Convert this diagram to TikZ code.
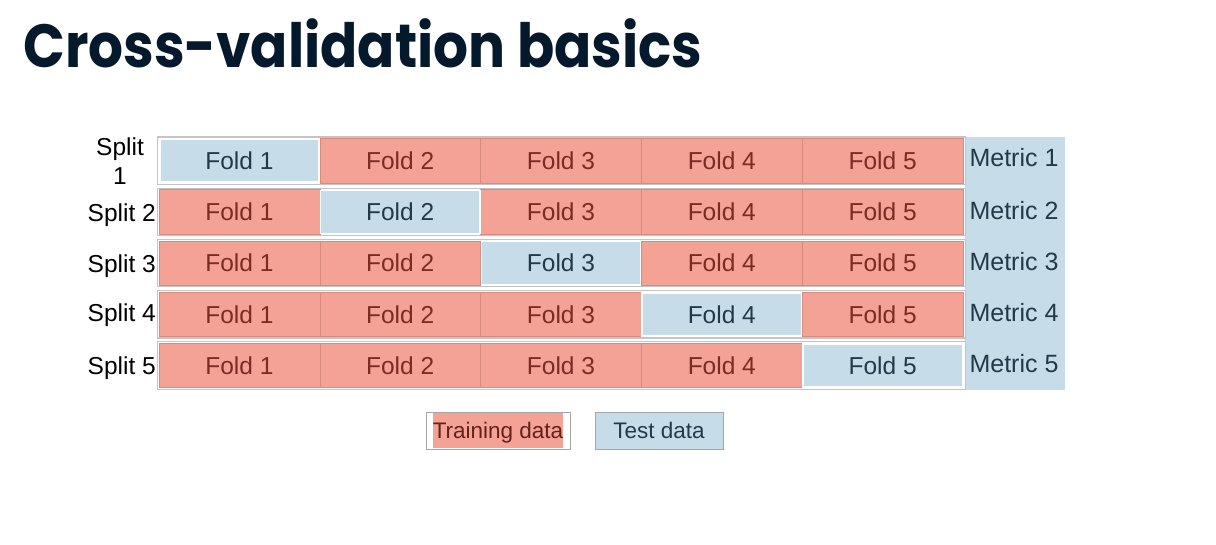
\documentclass[tikz,border=0pt]{standalone}
\usepackage{fontspec}
\setmainfont{Liberation Sans}
\newfontfamily\titlefont{Poppins}

\definecolor{trainred}{HTML}{F4A196}
\definecolor{trainline}{HTML}{D98A7F}
\definecolor{traintext}{HTML}{7A2B22}
\definecolor{testblue}{HTML}{C6DDE9}
\definecolor{testtext}{HTML}{22394A}
\definecolor{framegray}{HTML}{C4C4C4}
\definecolor{titlenavy}{HTML}{05192D}

\tikzset{
  foldtext/.style={font=\fontsize{24.5}{29}\selectfont},
  splitrow/.style={rectangle, draw=framegray, line width=1.2pt, fill=white,
    minimum width=808pt, minimum height=47.5pt, inner sep=0pt},
  trainfold/.style={rectangle, fill=trainred, draw=trainline, line width=0.6pt,
    minimum width=160.8pt, minimum height=44.5pt, inner sep=0pt,
    text=traintext, foldtext},
  testfold/.style={rectangle, fill=testblue, draw=white, line width=1.5pt,
    minimum width=159.3pt, minimum height=43pt, inner sep=0pt,
    text=testtext, foldtext},
  splitlabel/.style={anchor=east, inner sep=0pt, text depth=0pt, foldtext},
  metriclabel/.style={inner sep=0pt, text=testtext,
    font=\fontsize{25}{30}\selectfont},
  legendtext/.style={text depth=0pt, font=\fontsize{22.5}{27}\selectfont}
}

\begin{document}
\begin{tikzpicture}[x=1pt, y=-1pt]
  \useasboundingbox (0, 0) rectangle (1216, 544);

  \node[anchor=base west, inner sep=0pt, text=titlenavy, xscale=0.9,
    transform shape, font=\titlefont\bfseries\fontsize{61}{70}\selectfont]
    (title) at (23, 67) {Cross-validation basics};

  % metric column
  \node[rectangle, fill=testblue, minimum width=100pt, minimum height=253pt,
    inner sep=0pt] (metriccol) at (1015, 263.5) {};

  % split 1
  \node[splitrow] (row1) at (561.5, 160.7) {};
  \node[trainfold] (s1f2) at (400.2, 160.7) {Fold 2};
  \node[trainfold] (s1f3) at (561.0, 160.7) {Fold 3};
  \node[trainfold] (s1f4) at (721.8, 160.7) {Fold 4};
  \node[trainfold] (s1f5) at (882.6, 160.7) {Fold 5};
  \node[testfold] (s1f1) at (239.4, 160.7) {Fold 1};

  % split 2
  \node[splitrow] (row2) at (561.5, 211.9) {};
  \node[trainfold] (s2f1) at (239.4, 211.9) {Fold 1};
  \node[trainfold] (s2f3) at (561.0, 211.9) {Fold 3};
  \node[trainfold] (s2f4) at (721.8, 211.9) {Fold 4};
  \node[trainfold] (s2f5) at (882.6, 211.9) {Fold 5};
  \node[testfold] (s2f2) at (400.2, 211.9) {Fold 2};

  % split 3
  \node[splitrow] (row3) at (561.5, 263.1) {};
  \node[trainfold] (s3f1) at (239.4, 263.1) {Fold 1};
  \node[trainfold] (s3f2) at (400.2, 263.1) {Fold 2};
  \node[trainfold] (s3f4) at (721.8, 263.1) {Fold 4};
  \node[trainfold] (s3f5) at (882.6, 263.1) {Fold 5};
  \node[testfold] (s3f3) at (561.0, 263.1) {Fold 3};

  % split 4
  \node[splitrow] (row4) at (561.5, 314.3) {};
  \node[trainfold] (s4f1) at (239.4, 314.3) {Fold 1};
  \node[trainfold] (s4f2) at (400.2, 314.3) {Fold 2};
  \node[trainfold] (s4f3) at (561.0, 314.3) {Fold 3};
  \node[trainfold] (s4f5) at (882.6, 314.3) {Fold 5};
  \node[testfold] (s4f4) at (721.8, 314.3) {Fold 4};

  % split 5
  \node[splitrow] (row5) at (561.5, 365.5) {};
  \node[trainfold] (s5f1) at (239.4, 365.5) {Fold 1};
  \node[trainfold] (s5f2) at (400.2, 365.5) {Fold 2};
  \node[trainfold] (s5f3) at (561.0, 365.5) {Fold 3};
  \node[trainfold] (s5f4) at (721.8, 365.5) {Fold 4};
  \node[testfold] (s5f5) at (882.6, 365.5) {Fold 5};

  % split labels
  \node[foldtext, align=center, inner sep=0pt] (sp1) at (120, 161) {Split\\1};
  \node[splitlabel] (sp2) at (156, 212.5) {Split 2};
  \node[splitlabel] (sp3) at (156, 263.5) {Split 3};
  \node[splitlabel] (sp4) at (156, 313) {Split 4};
  \node[splitlabel] (sp5) at (156, 366) {Split 5};

  % metrics
  \node[metriclabel] (m1) at (1014, 157.5) {Metric 1};
  \node[metriclabel] (m2) at (1014, 210.5) {Metric 2};
  \node[metriclabel] (m3) at (1014, 262) {Metric 3};
  \node[metriclabel] (m4) at (1014, 312.5) {Metric 4};
  \node[metriclabel] (m5) at (1014, 363.5) {Metric 5};

  % legend
  \node[rectangle, draw=gray!70, line width=1pt, fill=white,
    minimum width=144pt, minimum height=37pt] (trainbox) at (498, 430.5) {};
  \node[rectangle, fill=trainred, minimum width=130pt, minimum height=35pt,
    inner sep=0pt, text=traintext!80!black, legendtext]
    (trainkey) at (498, 430.5) {Training data};
  \node[rectangle, draw=gray!70, line width=1pt, fill=testblue,
    minimum width=128pt, minimum height=37pt, inner sep=0pt, text=testtext,
    legendtext] (testkey) at (659, 430.5) {Test data};
\end{tikzpicture}
\end{document}
